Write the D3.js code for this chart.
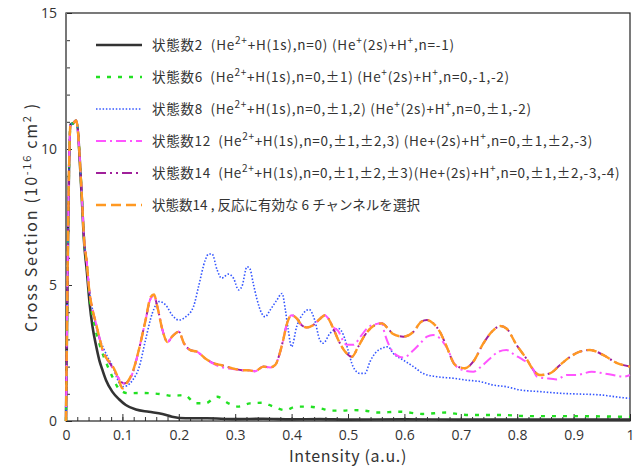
<!DOCTYPE html>
<html>
<head>
<meta charset="utf-8">
<script src="https://cdn.jsdelivr.net/npm/d3@7"></script>
<style>
body { margin: 0; background: #fff; }
text { font-family: "Noto Sans CJK JP", "Noto Sans", sans-serif; }
</style>
</head>
<body>
<script>
// values: [intensity, cross section]
var state2 = [[0,0],[0.008,10.9],[0.013,10.95],[0.018,11.05],[0.028,8.2],[0.032,6.6],[0.037,5.5],[0.042,4.3],[0.047,3.47],[0.053,2.8],[0.059,2.24],[0.065,1.85],[0.071,1.5],[0.082,1.08],[0.094,0.8],[0.106,0.59],[0.124,0.42],[0.147,0.34],[0.171,0.26],[0.188,0.16],[0.212,0.1],[0.25,0.1],[0.3,0.07],[0.35,0.08],[0.4,0.06],[0.45,0.07],[0.5,0.05],[0.6,0.06],[0.7,0.05],[0.8,0.05],[0.9,0.05],[1.0,0.05]];

var state6 = [[0,0],[0.008,10.9],[0.013,10.95],[0.018,11.05],[0.028,8.3],[0.032,6.7],[0.037,5.7],[0.041,4.7],[0.047,3.9],[0.053,3.3],[0.059,2.85],[0.068,2.3],[0.077,1.87],[0.085,1.5],[0.091,1.26],[0.1,1.08],[0.11,1.02],[0.13,1.03],[0.15,1.02],[0.171,0.98],[0.19,0.92],[0.21,0.96],[0.23,0.65],[0.247,0.65],[0.268,0.89],[0.288,0.65],[0.306,0.53],[0.326,0.65],[0.347,0.67],[0.368,0.53],[0.388,0.4],[0.409,0.53],[0.43,0.53],[0.45,0.47],[0.471,0.38],[0.489,0.38],[0.509,0.4],[0.53,0.38],[0.551,0.31],[0.592,0.34],[0.633,0.26],[0.674,0.31],[0.693,0.26],[0.716,0.22],[0.775,0.22],[0.816,0.18],[0.899,0.18],[1.0,0.15]];

var state8 = [[0,0],[0.008,10.9],[0.013,10.95],[0.018,11.05],[0.028,8.3],[0.032,6.7],[0.037,5.8],[0.041,4.85],[0.047,4.1],[0.053,3.5],[0.06,3.0],[0.066,2.7],[0.075,2.3],[0.083,2.0],[0.09,1.6],[0.099,1.26],[0.108,1.3],[0.118,1.5],[0.13,2.0],[0.141,2.98],[0.153,3.96],[0.165,4.39],[0.177,4.26],[0.188,3.9],[0.2,3.71],[0.212,3.83],[0.226,4.2],[0.235,4.94],[0.247,5.92],[0.253,6.14],[0.259,6.14],[0.268,5.55],[0.276,5.25],[0.288,5.4],[0.297,5.25],[0.306,4.82],[0.312,4.95],[0.321,5.67],[0.326,5.6],[0.332,5.06],[0.338,4.52],[0.347,3.96],[0.353,3.83],[0.362,4.08],[0.374,4.45],[0.383,4.69],[0.389,4.08],[0.394,3.35],[0.4,2.73],[0.409,3.47],[0.421,3.96],[0.431,4.1],[0.441,3.71],[0.45,2.98],[0.456,2.86],[0.468,3.22],[0.483,3.4],[0.492,3.16],[0.5,2.61],[0.509,2.0],[0.521,1.75],[0.53,1.75],[0.539,2.18],[0.548,2.49],[0.56,2.67],[0.571,2.73],[0.58,2.49],[0.598,2.24],[0.616,2.0],[0.633,1.75],[0.657,1.63],[0.687,1.57],[0.711,1.5],[0.734,1.45],[0.758,1.32],[0.781,1.26],[0.805,1.14],[0.84,1.08],[0.876,1.02],[0.911,0.99],[0.947,0.96],[0.982,0.87],[1.0,0.83]];

var state12 = [[0,0],[0.008,10.9],[0.013,10.95],[0.018,11.05],[0.028,8.3],[0.032,6.7],[0.037,5.8],[0.041,4.85],[0.047,4.1],[0.053,3.6],[0.06,3.0],[0.065,2.6],[0.072,2.3],[0.08,2.05],[0.087,1.8],[0.094,1.55],[0.103,1.38],[0.11,1.45],[0.118,1.76],[0.129,2.6],[0.141,3.7],[0.15,4.5],[0.156,4.6],[0.162,4.2],[0.171,3.35],[0.18,2.9],[0.188,3.1],[0.2,3.28],[0.209,2.86],[0.221,2.6],[0.232,2.55],[0.247,2.3],[0.262,2.1],[0.276,1.98],[0.294,1.92],[0.312,1.87],[0.326,1.86],[0.335,1.83],[0.35,2.0],[0.362,1.97],[0.371,2.06],[0.379,2.49],[0.385,2.97],[0.391,3.52],[0.4,3.89],[0.409,3.77],[0.418,3.52],[0.427,3.44],[0.438,3.52],[0.45,3.75],[0.459,3.89],[0.465,3.77],[0.474,3.45],[0.483,3.3],[0.49,3.0],[0.498,2.8],[0.51,2.8],[0.522,3.1],[0.536,3.45],[0.551,3.57],[0.56,3.6],[0.565,3.22],[0.574,2.73],[0.586,2.42],[0.598,2.33],[0.616,2.6],[0.628,2.85],[0.64,3.1],[0.651,3.16],[0.663,3.04],[0.675,2.7],[0.69,2.06],[0.704,1.87],[0.722,1.81],[0.737,2.02],[0.752,2.3],[0.767,2.55],[0.781,2.61],[0.796,2.42],[0.811,2.24],[0.826,2.0],[0.835,1.63],[0.852,1.57],[0.87,1.53],[0.888,1.69],[0.905,1.69],[0.932,1.81],[0.953,1.75],[0.97,1.69],[0.988,1.63],[1.0,1.69]];

var state14 = [[0,0],[0.008,10.9],[0.013,10.95],[0.018,11.05],[0.028,8.3],[0.032,6.7],[0.037,5.8],[0.041,4.85],[0.047,4.1],[0.053,3.6],[0.06,3.0],[0.065,2.6],[0.072,2.3],[0.08,2.05],[0.087,1.8],[0.094,1.55],[0.103,1.38],[0.11,1.45],[0.118,1.76],[0.129,2.6],[0.141,3.7],[0.15,4.5],[0.156,4.62],[0.162,4.2],[0.171,3.35],[0.18,2.9],[0.188,3.1],[0.2,3.28],[0.209,2.86],[0.221,2.6],[0.232,2.55],[0.247,2.3],[0.262,2.12],[0.276,2.05],[0.294,1.94],[0.312,1.87],[0.326,1.86],[0.335,1.83],[0.35,2.0],[0.362,1.97],[0.371,2.06],[0.379,2.49],[0.385,2.97],[0.391,3.52],[0.4,3.89],[0.409,3.77],[0.418,3.52],[0.427,3.44],[0.438,3.52],[0.45,3.75],[0.459,3.89],[0.465,3.77],[0.474,3.4],[0.483,2.97],[0.495,2.55],[0.507,2.36],[0.518,2.73],[0.53,3.16],[0.545,3.49],[0.56,3.59],[0.571,3.4],[0.58,3.2],[0.598,3.1],[0.616,3.28],[0.63,3.65],[0.64,3.71],[0.651,3.59],[0.663,3.28],[0.675,2.73],[0.69,2.06],[0.707,1.94],[0.722,2.18],[0.74,2.85],[0.755,3.28],[0.77,3.49],[0.781,3.4],[0.799,2.79],[0.816,2.3],[0.831,1.81],[0.84,1.69],[0.858,1.75],[0.876,2.06],[0.894,2.36],[0.911,2.55],[0.929,2.61],[0.953,2.42],[0.976,2.14],[1.0,2.0]];

var state14sel = [[0,0],[0.008,10.9],[0.013,10.95],[0.018,11.05],[0.028,8.3],[0.032,6.7],[0.037,5.8],[0.041,4.85],[0.047,4.1],[0.053,3.6],[0.06,3.0],[0.065,2.6],[0.072,2.3],[0.08,2.1],[0.087,1.85],[0.094,1.5],[0.1,1.2],[0.108,1.4],[0.118,1.8],[0.129,2.6],[0.141,3.7],[0.15,4.55],[0.156,4.65],[0.162,4.2],[0.171,3.35],[0.18,2.9],[0.188,3.1],[0.2,3.28],[0.209,2.86],[0.221,2.6],[0.232,2.55],[0.247,2.3],[0.262,2.12],[0.276,2.05],[0.294,1.94],[0.312,1.87],[0.326,1.86],[0.335,1.83],[0.35,2.0],[0.362,1.97],[0.371,2.06],[0.379,2.49],[0.385,2.97],[0.391,3.52],[0.4,3.89],[0.409,3.77],[0.418,3.52],[0.427,3.44],[0.438,3.52],[0.45,3.75],[0.459,3.89],[0.465,3.77],[0.474,3.4],[0.483,2.97],[0.495,2.55],[0.507,2.36],[0.518,2.73],[0.53,3.16],[0.545,3.49],[0.56,3.59],[0.571,3.4],[0.58,3.2],[0.598,3.1],[0.616,3.28],[0.63,3.65],[0.64,3.71],[0.651,3.59],[0.663,3.28],[0.675,2.73],[0.69,2.06],[0.707,1.94],[0.722,2.18],[0.74,2.85],[0.755,3.28],[0.77,3.49],[0.781,3.4],[0.799,2.79],[0.816,2.3],[0.831,1.81],[0.84,1.69],[0.858,1.75],[0.876,2.06],[0.894,2.36],[0.911,2.55],[0.929,2.61],[0.953,2.42],[0.976,2.14],[1.0,2.0]];

var legendLabels = [
    "状態数2\u00a0\u00a0(He^{2+}+H(1s),n=0) (He^{+}(2s)+H^{+},n=-1)",
    "状態数6\u00a0\u00a0(He^{2+}+H(1s),n=0,±1) (He^{+}(2s)+H^{+},n=0,-1,-2)",
    "状態数8\u00a0\u00a0(He^{2+}+H(1s),n=0,±1,2) (He^{+}(2s)+H^{+},n=0,±1,-2)",
    "状態数12\u00a0\u00a0(He^{2+}+H(1s),n=0,±1,±2,3) (He+(2s)+H^{+},n=0,±1,±2,-3)",
    "状態数14\u00a0\u00a0(He^{2+}+H(1s),n=0,±1,±2,±3)(He+(2s)+H^{+},n=0,±1,±2,-3,-4)",
    "状態数14 , 反応に有効な 6 チャンネルを選択"
];
var xTicks = [0, 0.1, 0.2, 0.3, 0.4, 0.5, 0.6, 0.7, 0.8, 0.9, 1];
var xTickLabels = ["0", "0.1", "0.2", "0.3", "0.4", "0.5", "0.6", "0.7", "0.8", "0.9", "1"];
var yTicks = [0, 5, 10, 15];
var yTickLabels = ["0", "5", "10", "15"];

var series = [
    { data: state2, color: "#333333", width: 2.6, dash: null },
    { data: state6, color: "#22e022", width: 2.4, dash: "4,7" },
    { data: state8, color: "#3355ff", width: 1.6, dash: "1.5,1.8" },
    { data: state14, color: "#a0209a", width: 2, dash: "10,4,2,4,2,4" },
    { data: state12, color: "#ff55ff", width: 2, dash: "10,4,2,4" },
    { data: state14sel, color: "#ff9922", width: 2.4, dash: "10,5" }
];
var legendOrder = [0, 1, 2, 4, 3, 5];
var legendWidths = [303, 358, 380, 441, 468, 268];   // rendered widths of the legend rows

var width = 636, height = 470;
var x = d3.scaleLinear().domain([0, 1]).range([66, 630]);
var y = d3.scaleLinear().domain([0, 15]).range([421, 13]);

var svg = d3.select("body").append("svg")
    .attr("width", width)
    .attr("height", height);

// ticks inside the plot
svg.append("g")
    .attr("transform", "translate(0," + y(0) + ")")
    .call(d3.axisBottom(x).tickValues(d3.range(0, 1.0001, 0.02)).tickSize(-4).tickFormat(""))
    .call(g => g.select(".domain").remove())
    .call(g => g.selectAll("line").attr("stroke", "#333"));
svg.append("g")
    .attr("transform", "translate(0," + y(0) + ")")
    .call(d3.axisBottom(x).tickValues(xTicks).tickSize(-7).tickPadding(9).tickFormat((d, i) => xTickLabels[i]))
    .call(g => g.select(".domain").remove())
    .call(g => g.selectAll("line").attr("stroke", "#333"))
    .call(g => g.selectAll("text").attr("font-size", 14).attr("fill", "#333")
        .style("font-family", "'Open Sans', sans-serif"));

svg.append("g")
    .attr("transform", "translate(" + x(0) + ",0)")
    .call(d3.axisLeft(y).tickValues(d3.range(0, 15.001, 1)).tickSize(-4).tickFormat(""))
    .call(g => g.select(".domain").remove())
    .call(g => g.selectAll("line").attr("stroke", "#333"));
svg.append("g")
    .attr("transform", "translate(" + x(0) + ",0)")
    .call(d3.axisLeft(y).tickValues(yTicks).tickSize(-6).tickPadding(9).tickFormat((d, i) => yTickLabels[i]))
    .call(g => g.select(".domain").remove())
    .call(g => g.selectAll("line").attr("stroke", "#333"))
    .call(g => g.selectAll("text").attr("font-size", 14).attr("fill", "#333")
        .style("font-family", "'Open Sans', sans-serif"));

// frame
svg.append("rect")
    .attr("x", x(0)).attr("y", y(15))
    .attr("width", x(1) - x(0)).attr("height", y(0) - y(15))
    .attr("fill", "none").attr("stroke", "#222").attr("stroke-width", 1.2);
svg.append("line")
    .attr("x1", x(0)).attr("x2", x(0)).attr("y1", y(0)).attr("y2", y(15))
    .attr("stroke", "#777").attr("stroke-width", 2);

var line = d3.line()
    .x(d => x(d[0]))
    .y(d => y(d[1]))
    .curve(d3.curveMonotoneX);

svg.append("g").selectAll("path")
    .data(series)
    .enter().append("path")
    .attr("d", d => line(d.data))
    .attr("fill", "none")
    .attr("stroke", d => d.color)
    .attr("stroke-width", d => d.width)
    .attr("stroke-dasharray", d => d.dash)
    .attr("stroke-linejoin", "round");

// text with ^{...} superscripts
function richText(sel, str, baseSize, supSize) {
    var parts = str.split(/(\^\{[^}]*\})/);
    var raised = false;
    parts.forEach(function (p) {
        if (p === "") return;
        if (p.startsWith("^{")) {
            sel.append("tspan").text(p.slice(2, -1))
                .attr("font-size", supSize).attr("dy", -6);
            raised = true;
        } else {
            var t = sel.append("tspan").text(p).attr("font-size", baseSize);
            if (raised) { t.attr("dy", 6); raised = false; }
        }
    });
}

// spread letters so the text spans the wanted width
function fitWidth(sel, target) {
    var n = sel.node();
    var len = n.getComputedTextLength();
    var count = n.textContent.length;
    sel.attr("letter-spacing", ((target - len) / count).toFixed(2));
}

var legend = svg.append("g");
legendLabels.forEach(function (label, i) {
    var s = series[legendOrder[i]];
    var ly = 45 + i * 32;
    legend.append("line")
        .attr("x1", 96).attr("x2", 142).attr("y1", ly).attr("y2", ly)
        .attr("stroke", s.color).attr("stroke-width", s.width)
        .attr("stroke-dasharray", s.dash);
    var t = legend.append("text")
        .attr("x", 152).attr("y", ly + 5)
        .attr("fill", "#333");
    richText(t, label, 13.5, 10);
    fitWidth(t, legendWidths[i]);
});

// axis titles
var xt = svg.append("text")
    .attr("x", (x(0) + x(1)) / 2).attr("y", 462)
    .attr("text-anchor", "middle")
    .attr("font-size", 16).attr("fill", "#333")
    .text("Intensity (a.u.)");
fitWidth(xt, 118);

var yt = svg.append("text")
    .attr("transform", "translate(37," + (y(0) + y(15)) / 2 + ") rotate(-90)")
    .attr("text-anchor", "middle")
    .attr("font-size", 16).attr("fill", "#333");
richText(yt, "Cross Section (10^{-16} cm^{2} )", 16, 11);
fitWidth(yt, 230);
</script>
</body>
</html>
